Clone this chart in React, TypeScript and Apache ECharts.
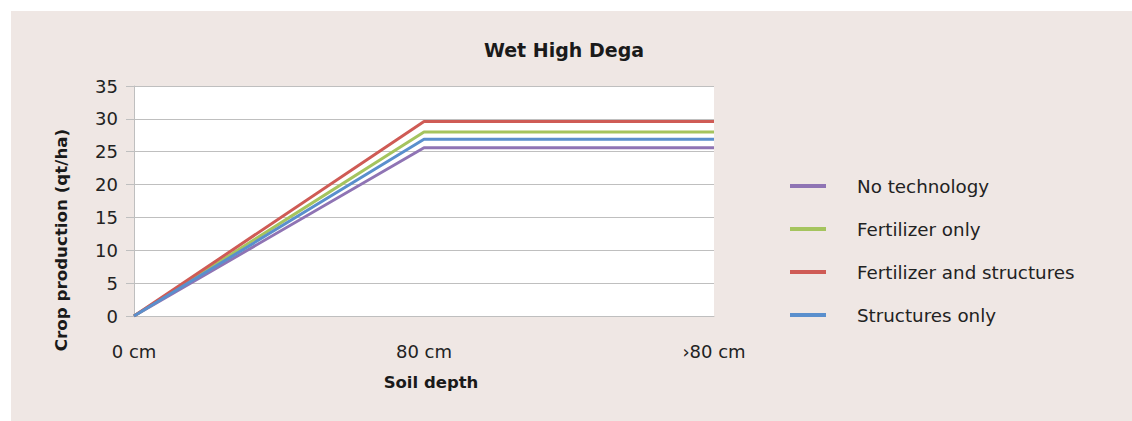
import React, { useEffect, useRef } from "react";
import * as echarts from "echarts";

const categories = ["0 cm", "80 cm", "›80 cm"];
const seriesNames = ["No technology", "Fertilizer only", "Fertilizer and structures", "Structures only"];
const noTechnology = [0, 25.6, 25.6];
const fertilizerOnly = [0, 28, 28];
const fertilizerAndStructures = [0, 29.6, 29.6];
const structuresOnly = [0, 26.9, 26.9];
const colors = ["#8f74b4", "#a5c45e", "#cf5b55", "#5a8fcd"];

const FONT = "'DejaVu Sans', sans-serif";

export default function App() {
  const ref = useRef<HTMLDivElement>(null);
  useEffect(() => {
    if (!ref.current) return;
    const chart = echarts.init(ref.current, undefined, { renderer: "svg" });
    const values = [noTechnology, fertilizerOnly, fertilizerAndStructures, structuresOnly];
    chart.setOption({
      animation: false,
      backgroundColor: "#efe7e4",
      title: {
        text: "Wet High Dega",
        left: 548,
        top: 24,
        textAlign: "center",
        textStyle: { fontFamily: FONT, fontWeight: "bold", fontSize: 19, color: "#1a1a1a" },
      },
      grid: { left: 123, right: 418, top: 75, bottom: 105, containLabel: false, backgroundColor: "#ffffff", show: true, borderWidth: 0 },
      legend: {
        orient: "vertical",
        left: 779,
        top: 165,
        padding: 0,
        itemWidth: 36,
        itemHeight: 4,
        itemGap: 23,
        icon: "rect",
        data: seriesNames,
        textStyle: { fontFamily: FONT, fontSize: 18.3, color: "#222", lineHeight: 20, padding: [0, 0, 0, 26] },
      },
      xAxis: {
        type: "category",
        data: categories,
        boundaryGap: false,
        name: "Soil depth",
        nameLocation: "middle",
        nameGap: 58,
        nameTextStyle: { fontFamily: FONT, fontWeight: "bold", fontSize: 16.5, color: "#1a1a1a", padding: [0, 0, 0, 14] },
        axisLine: { show: true, lineStyle: { color: "#bfbfbf", width: 1 } },
        axisTick: { show: false },
        axisLabel: { margin: 26, fontFamily: FONT, fontSize: 18, color: "#222" },
        splitLine: { show: false },
      },
      yAxis: {
        type: "value",
        min: 0,
        max: 35,
        interval: 5,
        axisLine: { show: true, lineStyle: { color: "#bfbfbf", width: 1 } },
        axisTick: { show: true, length: 8, lineStyle: { color: "#bfbfbf" } },
        axisLabel: { margin: 16, fontFamily: FONT, fontSize: 18, color: "#222" },
        splitLine: { show: true, lineStyle: { color: "#bfbfbf", width: 1 } },
      },
      graphic: [
        {
          type: "text",
          x: 50,
          y: 229,
          rotation: Math.PI / 2,
          style: {
            text: "Crop production (qt/ha)",
            fontFamily: FONT,
            fontWeight: "bold",
            fontSize: 16.7,
            fill: "#1a1a1a",
            align: "center",
            verticalAlign: "middle",
          },
        },
      ],
      series: seriesNames.map((name, i) => ({
        name,
        type: "line",
        data: values[i],
        symbol: "none",
        lineStyle: { width: 3, color: colors[i] },
        itemStyle: { color: colors[i] },
      })),
    });
    return () => chart.dispose();
  }, []);
  return (
    <div style={{ position: "absolute", left: 0, top: 0, width: 1132, height: 421, background: "#ffffff" }}>
      <div ref={ref} style={{ position: "absolute", left: 11, top: 11, width: 1121, height: 410 }} />
    </div>
  );
}
